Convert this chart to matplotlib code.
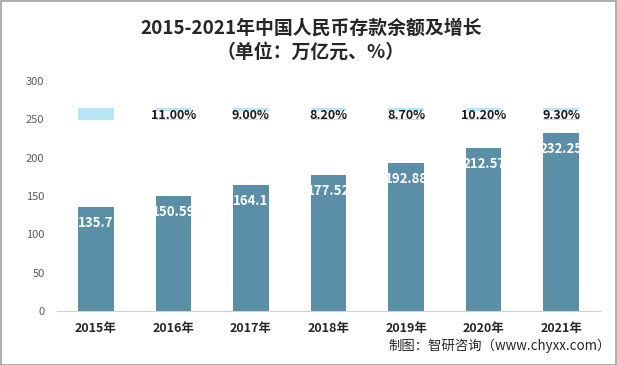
import matplotlib
matplotlib.use("Agg")
import matplotlib.pyplot as plt
from matplotlib.patches import Rectangle
import numpy as np

plt.rcParams['font.family'] = ['Noto Sans CJK SC', 'DejaVu Sans']

years = ["2015年", "2016年", "2017年", "2018年", "2019年", "2020年", "2021年"]
deposits = [135.7, 150.59, 164.1, 177.52, 192.88, 212.57, 232.25]
deposit_labels = ["135.7", "150.59", "164.1", "177.52", "192.88", "212.57", "232.25"]
growth = [None, 11.00, 9.00, 8.20, 8.70, 10.20, 9.30]
y_ticks = [0, 50, 100, 150, 200, 250, 300]

title = "2015-2021年中国人民币存款余额及增长"
subtitle = "（单位：万亿元、%）"
source = "制图：智研咨询（www.chyxx.com）"

bar_color = "#5b8fa8"
band_color = "#b7e6f7"

fig = plt.figure(figsize=(6.17, 3.65), dpi=100)
ax = fig.add_axes([57/617, 1 - 311/365, (600-57)/617, (311-81)/365])

x = np.arange(len(years))
ax.bar(x, deposits, width=0.46, color=bar_color, zorder=2)

# growth-rate band (helper series drawn at top)
band_bottom, band_top = 249, 264.5
ax.bar(x, [band_top - band_bottom] * len(x), bottom=band_bottom, width=0.46,
       color=band_color, zorder=2)

# white label backgrounds, only where a growth label exists
has_label = [g is not None for g in growth]
mask_x = [xi for xi, h in zip(x, has_label) if h]
ax.bar(mask_x, [10.0] * len(mask_x), bottom=250.5, width=0.56,
       color='white', zorder=2.5)

for xi, v, lab in zip(x, deposits, deposit_labels):
    ax.text(xi, v - 21, lab, ha='center', va='center', color='white',
            fontsize=9.5, fontweight='bold', zorder=3)

for xi, g in zip(x, growth):
    if g is None:
        continue
    ax.text(xi, 255, f"{g:.2f}%", ha='center', va='center', color='#1a1a1a',
            fontsize=9, fontweight='bold', zorder=3)

ax.set_xlim(-0.5, len(years) - 0.5)
ax.set_ylim(0, 300)
ax.set_yticks(y_ticks)
ax.set_yticklabels([str(t) for t in y_ticks], color='#595959', fontsize=8)
ax.set_xticks(x)
ax.set_xticklabels(years, fontsize=9, fontweight='bold', color='#262626')
ax.tick_params(axis='both', length=0)
ax.tick_params(axis='y', pad=9)
ax.tick_params(axis='x', pad=8)
for s in ['top', 'right', 'left']:
    ax.spines[s].set_visible(False)
ax.spines['bottom'].set_color('#d0d0d0')

fig.text(311/617, 1 - 28/365, title, ha='center', va='center', fontsize=13.6,
         fontweight='bold', color='#262626')
fig.text(311/617, 1 - 52/365, subtitle, ha='center', va='center', fontsize=13.6,
         fontweight='bold', color='#262626')
fig.text(611/617, 1 - 346/365, source, ha='right', va='center', fontsize=9.6,
         color='#262626')

fig.patches.append(Rectangle((0.5/617, 0.5/365), 1 - 1.5/617, 1 - 1.5/365,
                             transform=fig.transFigure, fill=False,
                             ec='#a0a0a0', lw=1.2))

fig.savefig("out.png", dpi=100)
